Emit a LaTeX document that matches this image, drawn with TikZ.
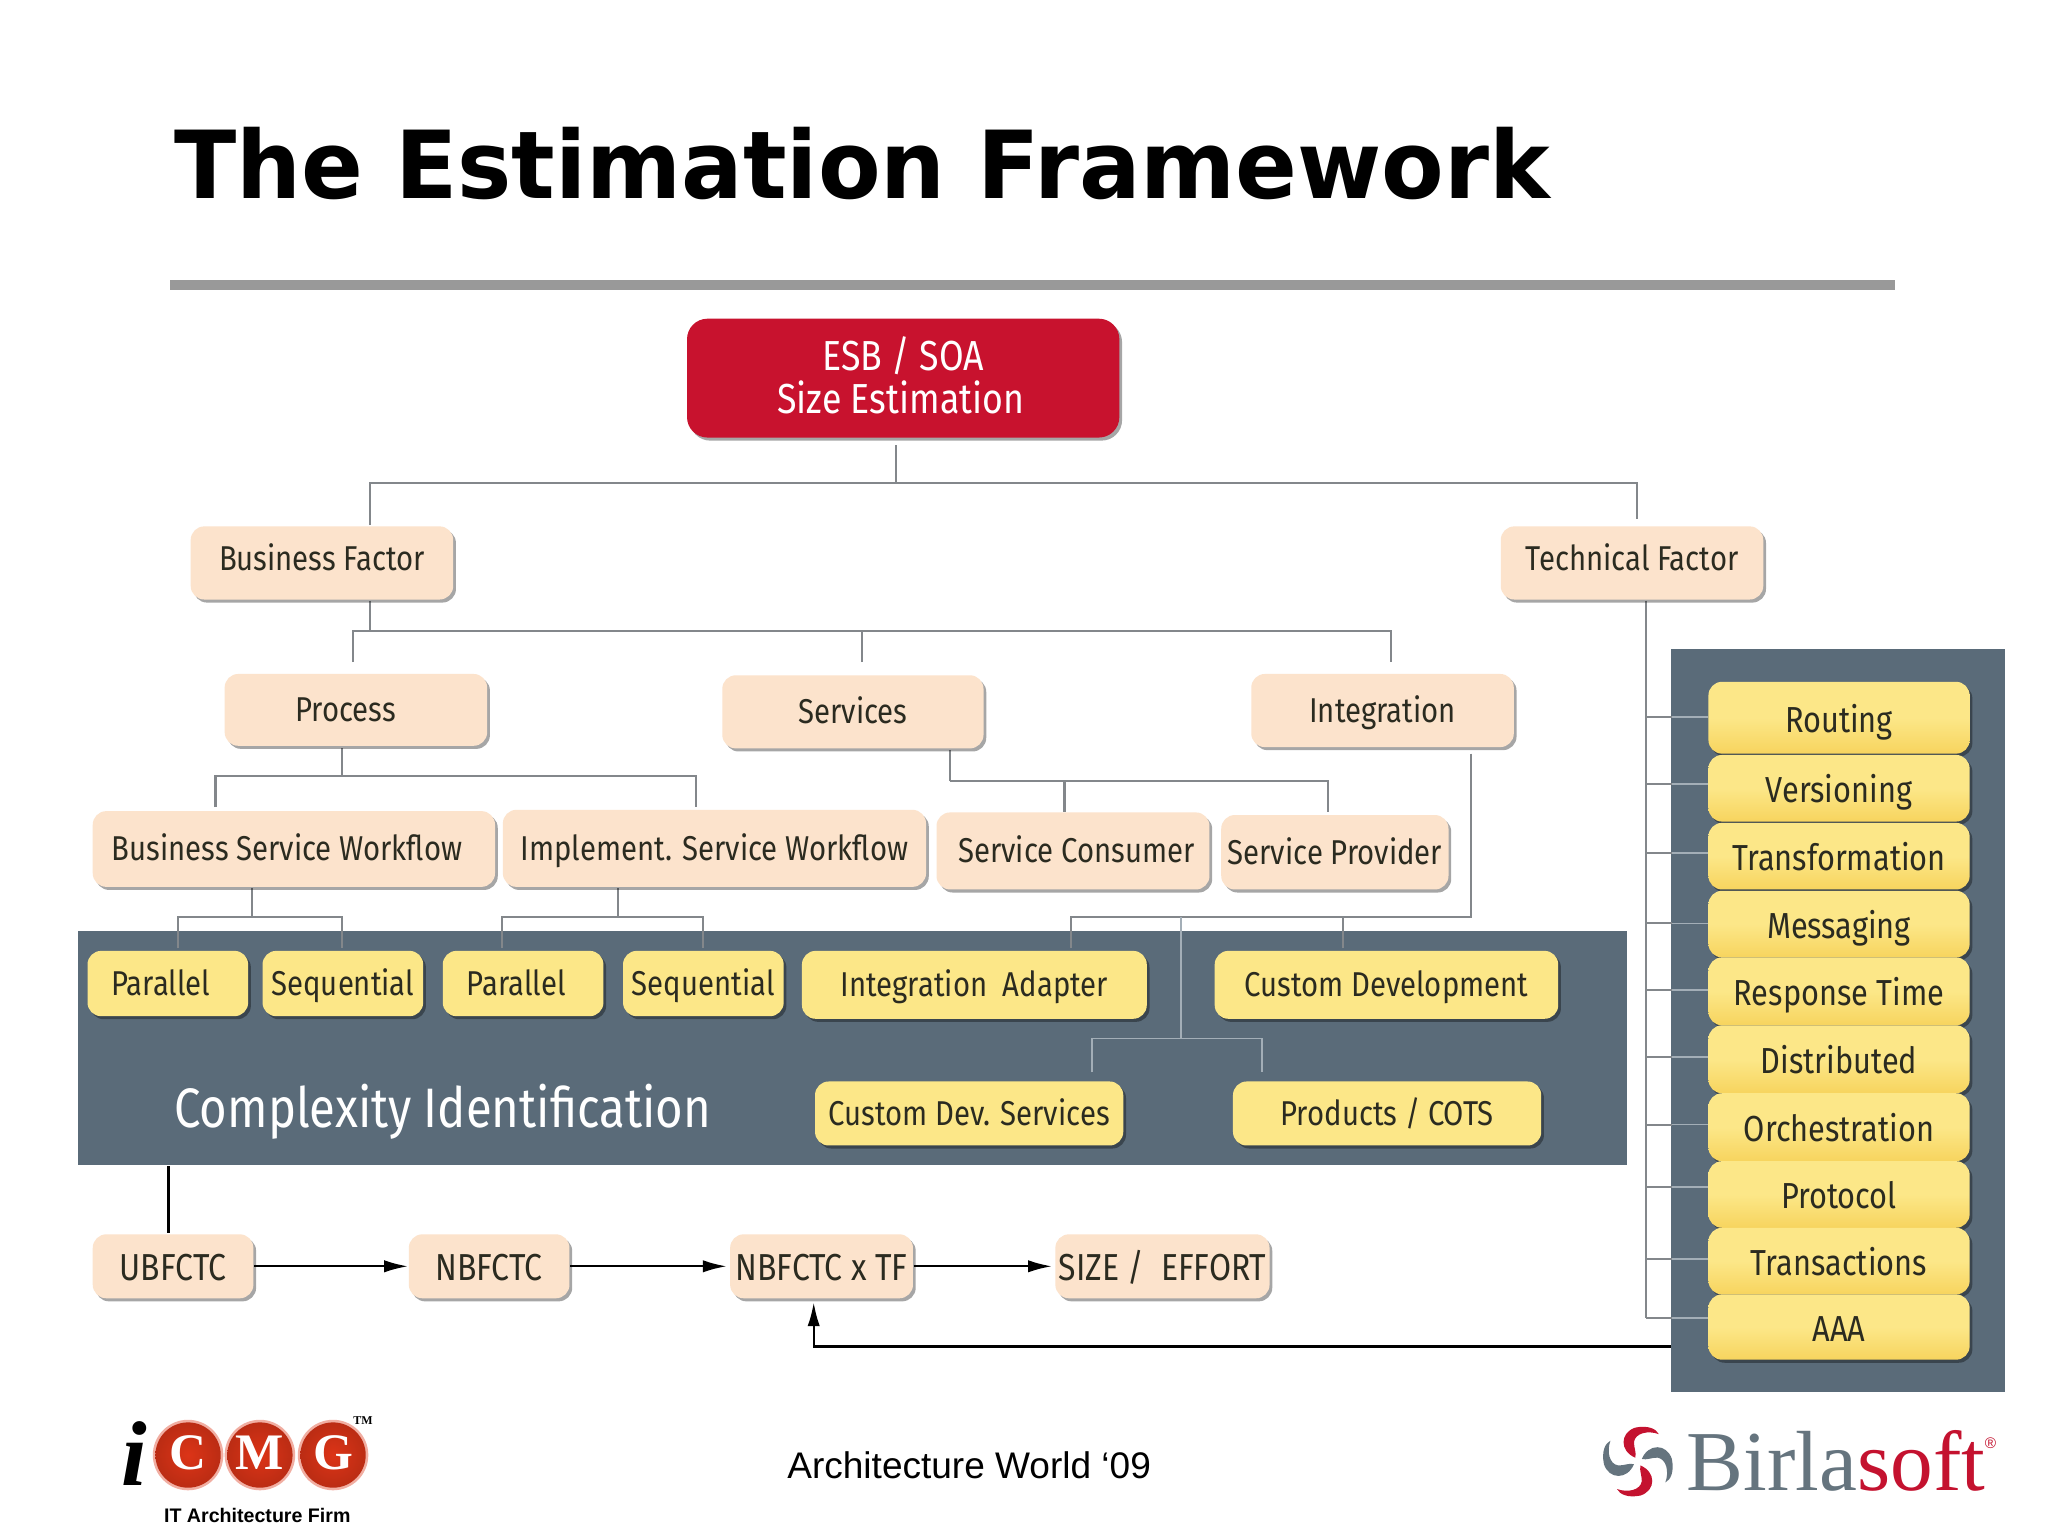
\documentclass[tikz,border=0pt]{standalone}
\usepackage{fontspec}
\setmainfont{DejaVu Sans}
\newfontfamily\titlefont[FakeStretch=0.972]{DejaVu Sans}
\newfontfamily\boxfont[FakeStretch=0.85]{Fira Sans}
\newfontfamily\arialfont{Liberation Sans}
\newfontfamily\logofont{Liberation Serif}
\usetikzlibrary{shadows,arrows.meta,calc}
\definecolor{panelc}{HTML}{5A6B79}
\definecolor{peach}{HTML}{FCE3CC}
\definecolor{yellowc}{HTML}{FCE788}
\definecolor{yellowd}{HTML}{F7D45E}
\definecolor{redc}{HTML}{C8122E}
\definecolor{linec}{HTML}{83878B}
\definecolor{tickc}{HTML}{A3AEB7}
\definecolor{textc}{HTML}{2B2B20}
\definecolor{logored}{HTML}{DC3417}
\definecolor{birlagrey}{HTML}{65747E}
\definecolor{birlared}{HTML}{C4122F}
\definecolor{rulec}{HTML}{999999}
\tikzset{
 x=0.3827pt,y=-0.3827pt,
 base/.style={rounded corners=4pt,inner sep=0pt,align=center,font=\boxfont\fontsize{10.1}{12}\selectfont,text=textc,
   drop shadow={shadow xshift=.8pt,shadow yshift=-.9pt,fill=black,opacity=.35}},
 evenline/.style={text height=8.5pt,text depth=1.5pt},
 lowline/.style={text height=9pt,text depth=.5pt},
 peachbox/.style={base,fill=peach,evenline},
 topbox/.style={base,fill=peach,text height=7pt,text depth=2.5pt},
 flowbox/.style={peachbox,lowline,font=\boxfont\fontsize{11}{12}\selectfont},
 yellowbox/.style={base,fill=yellowc,evenline},
 listbox/.style={base,top color=yellowc,bottom color=yellowd,middle color=yellowc,lowline,font=\boxfont\fontsize{10.6}{12}\selectfont},
 redbox/.style={base,fill=redc,text=white,font=\boxfont\fontsize{12.3}{12.6}\selectfont,rounded corners=6pt},
 conn/.style={draw=linec,line width=.6pt},
 tick/.style={draw=tickc,line width=.5pt},
 blackline/.style={draw=black,line width=.7pt},
 flow/.style={blackline,-{Latex[length=7pt,width=3.6pt]}},
}
\newcommand{\bx}[7]{\node[#2,minimum width={(#5-#3)*0.3827pt},minimum height={(#6-#4)*0.3827pt},anchor=center] (#1) at ({(#3+#5)/2},{(#4+#6)/2}) {#7};}
\begin{document}
\begin{tikzpicture}
\useasboundingbox (0,0) rectangle (1568,1176);
\fill[white] (0,0) rectangle (1568,1176);
% title
\node[anchor=base west,inner sep=0pt,font=\titlefont\bfseries\fontsize{27.5}{30}\selectfont] (title) at (133,152) {The Estimation Framework};
\fill[rulec] (130,214) rectangle (1451,222);
% panels
\fill[panelc] (60,713) coordinate (ca) rectangle (1246,892) coordinate (cb);
\fill[panelc] (1279,497) rectangle (1535,1066);
\node[inner sep=0pt,anchor=base west,text=white,font=\boxfont\fontsize{16.3}{18}\selectfont] (cplx) at (133,863) {Complexity Identification};
% junctions
\coordinate (j0) at (686,370);
\coordinate (j1) at (283,483);
\coordinate (j2) at (262,594);
\coordinate (j3) at (727,598);
\coordinate (j4) at (904,702);
\coordinate (j5) at (904,795);
\coordinate (j6) at (193,702);
\coordinate (j7) at (473,702);
% connectors behind boxes
\draw[conn] (686,341) -- (j0);
\draw[conn] (283,402) |- (j0) -| (1253,397);
\draw[conn] (283,460) -- (j1);
\draw[conn] (270,507) |- (j1) -| (1065,507);
\draw[conn] (660,507) -- (660,483);
\draw[conn] (262,573) -- (j2);
\draw[conn] (165,618) |- (j2) -| (533,618);
\draw[conn] (j3) -- (727,574);
\draw[conn] (j3) -| (815,622);
\draw[conn] (j3) -| (1017,622);
\draw[conn] (193,680) -- (j6);
\draw[conn] (136,726) |- (j6) -| (262,726);
\draw[conn] (473,680) -- (j7);
\draw[conn] (384,726) |- (j7) -| (538,726);
\draw[conn] (1126,577) |- (j4);
\draw[conn] (820,726) |- (j4);
\draw[conn] (1028,726) |- (j4);
\draw[tick] (904,702) -- (j5);
\draw[tick] (836,821) |- (j5) -| (966,821);
% right bus
\draw[conn] (1260,460) -- (1260,1009);
\foreach \yy in {549,600,653,707,758,809,861,909,964,1009}{
  \draw[conn] (1260,\yy) -- (1280,\yy);
  \draw[tick] (1280,\yy) -- (1308,\yy);
}
% boxes
\bx{esb}{redbox}{526}{244}{857}{335}{ESB / SOA\\Size Estimation\rule[-2pt]{0pt}{0pt}\kern1.5pt}
\bx{bf}{topbox}{146}{403}{347}{459}{Business Factor}
\bx{tf}{topbox}{1149}{403}{1350}{459}{Technical Factor}
\bx{proc}{peachbox}{172}{516}{373}{571}{Process\kern6pt}
\bx{serv}{peachbox}{553}{517}{753}{573}{Services}
\bx{integ}{peachbox}{958}{516}{1159}{572}{Integration}
\bx{bsw}{peachbox}{71}{621}{379}{679}{Business Service Workflow\kern4pt}
\bx{isw}{peachbox}{385}{620}{709}{679}{Implement. Service Workflow}
\bx{sc}{peachbox}{717}{622}{926}{681}{\kern2pt Service Consumer}
\bx{sp}{peachbox}{935}{624}{1109}{681}{Service Provider}
\bx{p1}{yellowbox}{67}{728}{190}{778}{Parallel\kern4pt}
\bx{s1}{yellowbox}{201}{728}{324}{778}{Sequential}
\bx{p2}{yellowbox}{339}{728}{462}{778}{Parallel\kern4pt}
\bx{s2}{yellowbox}{477}{728}{600}{778}{Sequential}
\bx{ia}{yellowbox}{614}{728}{878}{780}{Integration\ \ Adapter}
\bx{cd}{yellowbox}{930}{728}{1193}{780}{Custom Development}
\bx{cds}{yellowbox}{624}{828}{860}{877}{Custom Dev. Services}
\bx{cots}{yellowbox}{944}{828}{1180}{877}{Products / COTS}
\bx{ub}{flowbox}{71}{945}{194}{994}{UBFCTC}
\bx{nb}{flowbox}{313}{945}{436}{994}{NBFCTC}
\bx{nt}{flowbox}{559}{945}{699}{994}{NBFCTC x TF}
\bx{se}{flowbox}{808}{945}{972}{994}{SIZE /\ \ EFFORT}
\bx{l1}{listbox}{1308}{522}{1508}{577}{Routing}
\bx{l2}{listbox}{1308}{578}{1508}{629}{Versioning}
\bx{l3}{listbox}{1308}{630}{1508}{681}{Transformation}
\bx{l4}{listbox}{1308}{682}{1508}{733}{Messaging}
\bx{l5}{listbox}{1308}{733}{1508}{785}{Response Time}
\bx{l6}{listbox}{1308}{785}{1508}{837}{Distributed}
\bx{l7}{listbox}{1308}{837}{1508}{889}{Orchestration}
\bx{l8}{listbox}{1308}{889}{1508}{940}{Protocol}
\bx{l9}{listbox}{1308}{940}{1508}{991}{Transactions}
\bx{l10}{listbox}{1308}{991}{1508}{1041}{AAA}
% flow
\coordinate (d0) at (129,893);
\draw[blackline] (d0) -- (129,944);
\draw[flow] (ub.east) -- (nb.west);
\draw[flow] (nb.east) -- ($(nt.west)+(-2,0)$);
\draw[flow] (nt.east) -- ($(se.west)+(-2,0)$);
\coordinate (fb) at (1279,1031);
\draw[flow] (fb) -| (623,997);
% footer
\node[inner sep=0pt,font=\arialfont\fontsize{10.85}{13}\selectfont] (foot) at (742,1122) {Architecture World ‘09};
\node[inner sep=0pt,font=\arialfont\bfseries\fontsize{5.75}{7}\selectfont] (firm) at (197,1160) {IT Architecture Firm};
% iCMG logo
\node[inner sep=0pt,font=\logofont\bfseries\itshape\fontsize{27}{29}\selectfont] (ilogo) at (103,1113) {i};
\foreach \cx/\ltr in {144/C,199/M,255/G}{
  \fill[logored!40] (\cx,1114) circle (27);
  \shade[inner color=logored,outer color=logored!85!black] (\cx,1114) circle (25);
  \node[text=white,inner sep=0pt,font=\logofont\bfseries\fontsize{15}{16}\selectfont] (lg\ltr) at (\cx,1112) {\ltr};
}
\node[inner sep=0pt,font=\logofont\bfseries\fontsize{3.5}{4}\selectfont] (tm) at (278,1088) {TM};
% Birlasoft logo
\begin{scope}[shift={(1254,1119)}]
 \foreach \a/\c in {0/birlared,90/birlagrey,180/birlared,270/birlagrey}{
   \begin{scope}[rotate=\a]
   \fill[\c] (-2,-3) .. controls (-14,-8) and (-14,-22) .. (-2,-26) .. controls (8,-28) and (14,-25) .. (16,-21) .. controls (8,-24) and (-2,-22) .. (-3,-15) .. controls (-3,-10) and (-1,-7) .. (-2,-3);
   \end{scope}
 }
\end{scope}
\node[inner sep=0pt,anchor=base west,font=\logofont\fontsize{25}{27}\selectfont] (birla) at (1291,1141) {\textcolor{birlagrey}{Birla}\textcolor{birlared}{soft}};
\node[inner sep=0pt,text=birlared,font=\arialfont\fontsize{4.5}{5}\selectfont] (reg) at (1524,1105) {®};
\end{tikzpicture}
\end{document}
